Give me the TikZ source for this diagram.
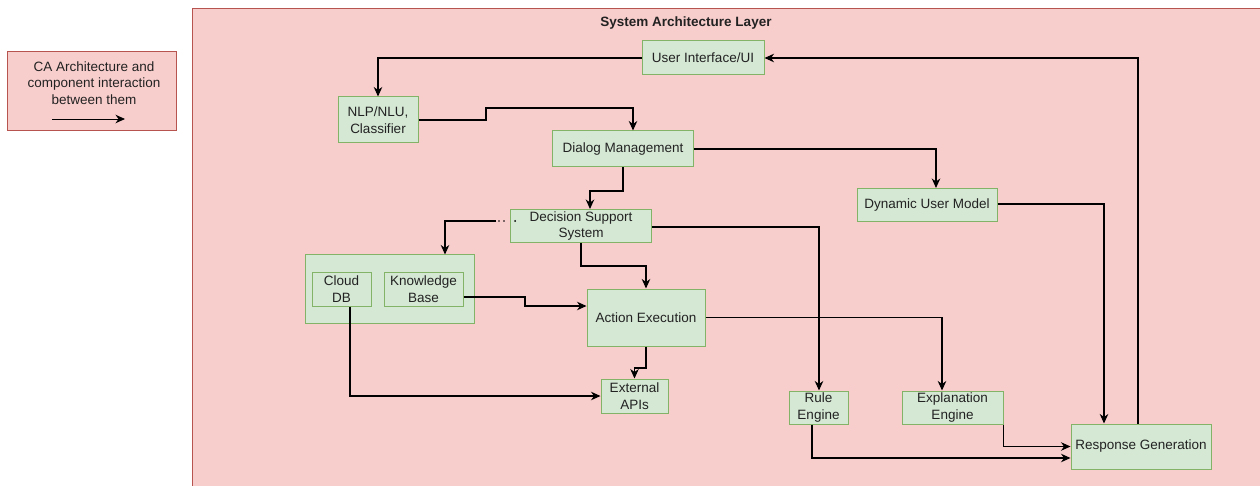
\documentclass[tikz,border=0pt]{standalone}
\usepackage{fontspec}
\setmainfont{Liberation Sans}
\usetikzlibrary{arrows.meta}
\definecolor{layerfill}{HTML}{F8CECC}
\definecolor{layerdraw}{HTML}{B85450}
\definecolor{boxfill}{HTML}{D5E8D4}
\definecolor{boxdraw}{HTML}{82B366}
\definecolor{txt}{HTML}{222222}
\tikzset{
  box/.style={draw=boxdraw, fill=boxfill, line width=1pt, inner sep=0pt, align=center,
    text=txt, font=\fontsize{13.5}{16.5}\selectfont},
  arr/.style={draw=black, line width=1.1pt, -{Stealth[length=9.5pt,width=8.5pt,inset=3pt]}},
  lbl/.style={text=txt, align=center, inner sep=0pt, font=\fontsize{13.5}{16.5}\selectfont}
}
\begin{document}
\begin{tikzpicture}[x=1pt,y=-1pt]
\useasboundingbox (0,0) rectangle (1260,486);
% layer frame
\path[draw=layerdraw, fill=layerfill, line width=1pt] (192,9) rectangle (1266,492);
\node[lbl, font=\fontsize{13.5}{16.5}\selectfont\bfseries] (title) at (686,23) {System Architecture Layer};
% legend
\node[draw=layerdraw, fill=layerfill, line width=1pt, minimum width=169pt, minimum height=79pt, inner sep=0pt] (legend) at (91.5,91.5) {};
\node[lbl] (legtxt) at (94,83) {CA Architecture and\\component interaction\\between them};
\coordinate (la) at (52,119);
\coordinate (lb) at (125,119);
\draw[arr, line width=0.9pt] (la) -- (lb);
% nodes
\node[box, minimum width=122pt, minimum height=34pt] (ui) at (703,58) {User Interface/UI};
\node[box, minimum width=80pt, minimum height=46pt] (nlp) at (378,120) {NLP/NLU,\\Classifier};
\node[box, minimum width=141pt, minimum height=36pt] (dialog) at (623,149) {Dialog Management};
\node[box, minimum width=140pt, minimum height=33pt] (dyn) at (927,205) {Dynamic User Model};
\node[box, minimum width=141pt, minimum height=33pt] (dss) at (581,226) {Decision Support\\System};
\node[box, minimum width=169pt, minimum height=68pt] (cont) at (389.5,289) {};
\node[box, minimum width=59pt, minimum height=34pt] (cloud) at (341.5,289) {Cloud\\DB};
\node[box, minimum width=79pt, minimum height=34pt] (kb) at (423.5,289) {Knowledge\\Base};
\node[box, minimum width=118pt, minimum height=57pt] (action) at (646,317.5) {Action Execution};
\node[box, minimum width=67pt, minimum height=34pt] (ext) at (634.5,396) {External\\APIs};
\node[box, minimum width=59pt, minimum height=33pt] (rule) at (818.5,407.5) {Rule\\Engine};
\node[box, minimum width=101pt, minimum height=33pt] (expl) at (952.5,407.5) {Explanation\\Engine};
\node[box, minimum width=140pt, minimum height=45pt] (resp) at (1141,446.5) {Response Generation};
% small dots near decision support
\fill[black] (499,221) circle (0.8pt);
\fill[black] (504,221) circle (0.8pt);
\fill[black] (515,221) circle (1pt);
% connectors
\draw[arr] (ui.west) -| (nlp.north);
\draw[arr] (nlp.east) -| (486,108) -| ([xshift=10pt]dialog.north);
\draw[arr] (dialog.south) |- (590,191) -- ([xshift=9pt]dss.north);
\draw[arr] (dialog.east) -| ([xshift=9pt]dyn.north);
\draw[arr] ([xshift=-14pt,yshift=5pt]dss.west) -| ([xshift=55.5pt]cont.north);
\draw[arr] (dss.south) -- (581,266) -| (action.north);
\draw[arr] ([yshift=-1pt]dss.east) -| ([xshift=0.5pt]rule.north);
\draw[arr] ([yshift=-8pt]kb.east) -- (525,297) |- ([yshift=11.5pt]action.west);
\draw[arr] ([xshift=8.5pt]cloud.south) |- (ext.west);
\draw[arr] (action.south) -- (646,368) -| (ext.north);
\draw[arr] (action.east) -| ([xshift=-10.5pt]expl.north);
\draw[arr] ([yshift=1pt]dyn.east) -| ([xshift=-37pt]resp.north);
\draw[arr] ([xshift=-3pt]resp.north) |- (ui.east);
\draw[arr] (expl.south east) |- (resp.west);
\draw[arr] ([xshift=-6.5pt]rule.south) |- ([yshift=-11.5pt]resp.west);
\end{tikzpicture}
\end{document}
